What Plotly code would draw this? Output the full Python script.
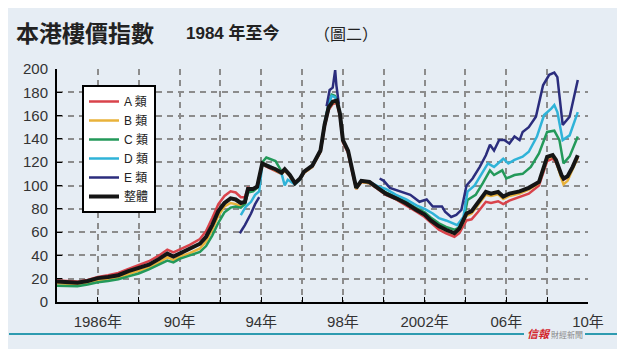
import plotly.graph_objects as go

# ---------------- data ----------------
overall_x = [1984.0, 1984.5, 1985.0, 1985.5, 1986.0, 1986.5, 1987.0, 1987.5, 1988.0, 1988.5,
             1989.0, 1989.4, 1989.7, 1990.0, 1990.5, 1991.0, 1991.3, 1991.6, 1991.9, 1992.2,
             1992.5, 1992.75, 1993.0, 1993.2, 1993.35, 1993.6, 1993.8, 1994.05, 1994.4, 1994.7,
             1995.0, 1995.15, 1995.4, 1995.65, 1995.9, 1996.1, 1996.5, 1996.9, 1997.1, 1997.3,
             1997.5, 1997.7, 1997.85, 1998.0, 1998.25, 1998.5, 1998.65, 1998.9, 1999.3, 1999.7,
             2000.1, 2000.6, 2001.1, 2001.6, 2002.0, 2002.3, 2002.7, 2003.05, 2003.46, 2003.7,
             2004.05, 2004.3, 2004.6, 2005.0, 2005.25, 2005.6, 2005.85, 2006.15, 2006.65, 2007.1,
             2007.6, 2008.0, 2008.27, 2008.43, 2008.7, 2008.8, 2009.0, 2009.25, 2009.5]
overall_y = [17.5, 17, 16.5, 18, 20.5, 21.5, 23, 26.5, 29, 32,
             37, 41.5, 39, 41.5, 45, 50, 56, 66, 78, 85,
             89, 88, 85, 86, 97, 97, 99, 119, 116, 114,
             111, 114, 109, 102, 106, 112, 117, 130, 152, 167,
             172, 173, 162, 139, 130, 110, 98, 104, 103, 98,
             93, 89, 84.5, 79, 75, 70, 65, 62, 59, 63,
             76, 78, 85, 94.5, 93, 94.5, 90.5, 93, 95, 98,
             103, 124.5, 126, 122, 109, 106, 108, 116, 126]

class_a_y = [18.5, 18, 17.5, 19, 21.5, 23, 25, 28.5, 31.5, 35,
             40, 45, 42.5, 45, 49, 54, 61, 72, 84, 91,
             95, 94, 90, 90, 98, 97, 99, 118, 115, 113,
             110, 113, 108, 101, 105, 111, 116, 129, 150, 165,
             170, 171, 160, 137, 128, 108, 97, 103, 102, 97,
             92, 88, 83, 77.5, 73, 68, 62, 59, 56, 59,
             70, 71, 77, 86, 85, 86.5, 84, 87, 90, 93,
             100, 121, 123, 120, 108, 105, 107, 115, 124]

class_b_y = [16, 15.5, 15, 16.5, 18.5, 19.5, 21, 24, 26.5, 29.5,
             34, 38.5, 36, 39, 42, 46, 52, 62, 74, 82,
             85, 84, 82, 84, 95, 96, 98, 118, 116, 113,
             110, 113, 108, 101, 105, 111, 116, 129, 151, 166,
             171, 172, 161, 138, 129, 109, 97, 103, 102, 97.5,
             92.5, 88.5, 84, 78.5, 74.5, 69.5, 64.5, 61.5, 58.5, 62,
             74, 76, 83, 92, 91, 92.5, 88.5, 91, 93, 96.5,
             102, 123, 125, 121, 106, 101, 104, 114, 124]

class_c_x = [1984.0, 1984.5, 1985.0, 1985.5, 1986.0, 1986.5, 1987.0, 1987.5, 1988.0, 1988.5,
             1989.0, 1989.4, 1989.7, 1990.0, 1990.5, 1991.0, 1991.3, 1991.6, 1991.9, 1992.2,
             1992.5, 1992.75, 1993.0, 1993.2, 1993.35, 1993.6, 1993.8, 1994.05, 1994.25, 1994.5,
             1994.7, 1995.0, 1995.15, 1995.4, 1995.65, 1995.9, 1996.1, 1996.5, 1996.9, 1997.1,
             1997.3, 1997.45, 1997.6, 1997.7, 1997.85, 1998.0, 1998.25, 1998.5, 1998.65, 1998.9,
             1999.3, 1999.7, 2000.1, 2000.6, 2001.1, 2001.6, 2002.0, 2002.3, 2002.7, 2003.05,
             2003.46, 2003.7, 2003.9, 2004.1, 2004.5, 2004.85, 2005.2, 2005.4, 2005.8, 2006.0,
             2006.4, 2006.8, 2007.2, 2007.6, 2008.0, 2008.35, 2008.6, 2008.8, 2009.1, 2009.5]
class_c_y = [14, 13.5, 13.5, 15, 17, 18, 19.5, 22, 24.5, 28,
             32, 35.5, 34, 37, 40, 43, 48, 57, 68, 77,
             81, 82, 81, 84, 94, 95, 98, 120, 124, 122,
             121, 112, 114, 109, 102, 106, 112, 117, 130, 153,
             170, 178, 177, 174, 163, 139, 130, 110, 98, 104,
             103, 98.5, 94, 90, 86, 80.5, 77, 72.5, 67.5, 64.5,
             62, 64, 69, 87.5, 92, 102, 113, 109, 113, 106,
             109, 110, 116, 127.5, 146, 147, 139, 119, 125, 142]

class_d_x = [1993.0, 1993.25, 1993.5, 1993.7, 1993.9, 1994.05, 1994.4, 1994.7, 1995.0, 1995.15,
             1995.3, 1995.65, 1995.9, 1996.1, 1996.5, 1996.9, 1997.1, 1997.3, 1997.45, 1997.6,
             1997.7, 1997.85, 1998.0, 1998.25, 1998.5, 1998.65, 1998.9, 1999.3, 1999.7, 2000.1,
             2000.6, 2001.1, 2001.6, 2002.0, 2002.4, 2002.7, 2003.05, 2003.4, 2003.6, 2003.9,
             2004.1, 2004.45, 2004.8, 2005.1, 2005.4, 2005.85, 2006.1, 2006.4, 2006.8, 2007.1,
             2007.5, 2007.85, 2008.2, 2008.35, 2008.5, 2008.76, 2009.1, 2009.5]
class_d_y = [74.5, 82, 86, 92, 95, 118, 117, 114, 110, 100,
             105, 101, 105, 112, 117, 130, 153, 170, 177, 176,
             173, 162, 139, 130, 110, 98, 104, 103, 99.5, 97,
             92, 88, 83, 80, 76, 72, 70, 67.5, 66, 73,
             94.7, 100, 110, 119, 116, 123, 119, 122, 124.7, 129,
             142, 160.5, 166, 169, 163, 139, 143, 163]

class_e_x = [1992.95, 1993.2, 1993.5, 1993.7, 1993.9, None,
             1997.2, 1997.35, 1997.5, 1997.62, 1997.68, 1997.8, None,
             1999.8, 2000.0, 2000.3, 2000.8, 2001.3, 2001.75, 2002.1, 2002.4, 2002.85, 2003.0,
             2003.3, 2003.55, 2003.8, 2004.05, 2004.35, 2004.7, 2005.0, 2005.2, 2005.4, 2005.65,
             2005.9, 2006.15, 2006.4, 2006.65, 2006.8, 2007.1, 2007.45, 2007.8, 2008.1, 2008.35,
             2008.5, 2008.76, 2009.1, 2009.5]
class_e_y = [59, 66, 76, 84, 90, None,
             168, 182, 184, 199, 186, 170, None,
             106, 104, 98, 95, 92, 86, 88, 82, 82, 77.5,
             73, 74.7, 79, 100, 106, 116, 126, 135, 130, 139,
             139, 136, 142, 139, 146, 150, 159, 186, 195, 197,
             193, 152, 159, 190.5]

series_names = ["A 類", "B 類", "C 類", "D 類", "E 類", "整體"]
series_colors = ["#d9434b", "#e9b23a", "#23995a", "#2fb3d8", "#2b2d7d", "#151515"]

tick_vals = [1986, 1988, 1990, 1992, 1994, 1996, 1998, 2000, 2002, 2004, 2006, 2008, 2010]
tick_text = ["1986年", "", "90年", "", "94年", "", "98年", "", "2002年", "", "06年", "", "10年"]
y_ticks = [0, 20, 40, 60, 80, 100, 120, 140, 160, 180, 200]

# ---------------- figure ----------------
# The page places the figure 8 px from the top-left corner; the figure is the light panel.
OFF = 8
W, H = 609, 341
L, R, T, B = 57 - OFF, 588 - OFF, 69 - OFF, 302 - OFF


def px(x):
    """page pixel x -> paper fraction"""
    return (x - OFF - L) / (R - L)


def py(y):
    """page pixel y -> paper fraction"""
    return (B - (y - OFF)) / (B - T)


FONT = "Liberation Sans, Arial, Noto Sans CJK TC, sans-serif"
CJK = "Noto Sans CJK TC, sans-serif"

fig = go.Figure()
xs = [overall_x, overall_x, class_c_x, class_d_x, class_e_x, overall_x]
ys = [class_a_y, class_b_y, class_c_y, class_d_y, class_e_y, overall_y]
widths = [2.5, 2.5, 2.5, 2.5, 2.5, 4]
for name, color, x, y, w in zip(series_names, series_colors, xs, ys, widths):
    fig.add_trace(go.Scatter(x=x, y=y, mode="lines", name=name,
                             line=dict(color=color, width=w),
                             connectgaps=False, hoverinfo="skip"))

shapes = [
    dict(type="line", xref="paper", yref="paper", x0=px(9), x1=px(524), y0=py(334), y1=py(334),
         line=dict(color="#2e9bb0", width=2)),
    dict(type="line", xref="paper", yref="paper", x0=px(585), x1=px(617), y0=py(334), y1=py(334),
         line=dict(color="#2e9bb0", width=2)),
]

annotations = [
    dict(text="<b>本港樓價指數</b>", x=px(14), y=py(32), xref="paper", yref="paper",
         xanchor="left", yanchor="middle", showarrow=False,
         font=dict(family=CJK, size=23, color="#222222")),
    dict(text="<b>1984 年至今</b>", x=px(184), y=py(33), xref="paper", yref="paper",
         xanchor="left", yanchor="middle", showarrow=False,
         font=dict(family="Liberation Sans, Noto Sans CJK TC", size=17, color="#222222")),
    dict(text="（圖二）", x=px(312), y=py(33), xref="paper", yref="paper",
         xanchor="left", yanchor="middle", showarrow=False,
         font=dict(family=CJK, size=16, color="#222222")),
    dict(text="<b><i>信報</i></b>", x=px(525), y=py(333), xref="paper", yref="paper",
         xanchor="left", yanchor="middle", showarrow=False,
         font=dict(family=CJK, size=11, color="#d4262c")),
    dict(text="財經新聞", x=px(549), y=py(334), xref="paper", yref="paper",
         xanchor="left", yanchor="middle", showarrow=False,
         font=dict(family=CJK, size=8, color="#8a8a8a")),
]

fig.update_layout(
    width=W, height=H,
    margin=dict(l=L, r=W - R, t=T, b=H - B, pad=0),
    paper_bgcolor="#e6edf4",
    plot_bgcolor="rgba(0,0,0,0)",
    showlegend=True,
    legend=dict(x=px(82), y=py(85), xanchor="left", yanchor="top",
                bgcolor="white", bordercolor="black", borderwidth=2,
                font=dict(family=FONT, size=12, color="#222222"),
                itemwidth=30, tracegroupgap=0),
    shapes=shapes,
    annotations=annotations,
    font=dict(family=FONT, color="#333333"),
)

fig.update_xaxes(range=[1984, 2010], tickmode="array", tickvals=tick_vals, ticktext=tick_text,
                 showline=True, linecolor="black", linewidth=2,
                 ticks="inside", ticklen=5, tickcolor="black", tickwidth=1,
                 showgrid=True, gridcolor="#8c8c8c", gridwidth=1.5, griddash="6px,5px",
                 zeroline=False, tickfont=dict(family=FONT, size=15, color="#333333"),
                 ticklabelstandoff=5, fixedrange=True)
fig.update_yaxes(range=[0, 200], tickmode="array", tickvals=y_ticks,
                 showline=True, linecolor="black", linewidth=2,
                 ticks="inside", ticklen=5, tickcolor="black", tickwidth=1,
                 showgrid=True, gridcolor="#8c8c8c", gridwidth=1.5, griddash="6px,5px",
                 zeroline=False, tickfont=dict(family=FONT, size=15, color="#333333"),
                 ticklabelstandoff=4, fixedrange=True)

fig.write_html("out.html")
